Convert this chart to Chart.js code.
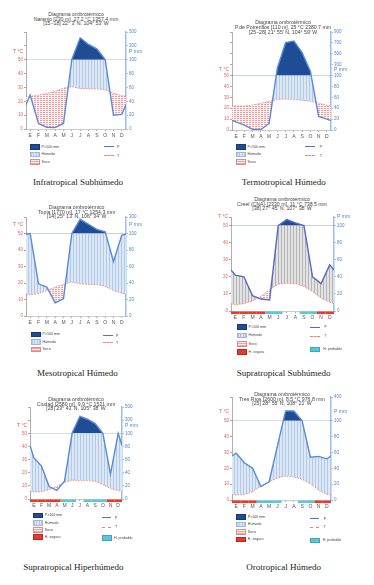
<!DOCTYPE html>
<html>
<head>
<meta charset="utf-8">
<script src="https://cdn.jsdelivr.net/npm/chart.js@4.4.1/dist/chart.umd.min.js"></script>
<style>
body{margin:0;background:#fff;width:374px;height:585px;position:relative;overflow:hidden;font-family:"Liberation Sans",Arial,sans-serif}
canvas{position:absolute}
.ttl{position:absolute;font-size:5.2px;line-height:4.6px;color:#444;text-align:center;white-space:nowrap;transform:translateX(-50%)}
.cap{position:absolute;font-family:"Liberation Serif","Times New Roman",serif;font-size:9px;color:#222;white-space:nowrap;transform:translate(-50%,-50%)}
.box{position:absolute;width:10px;height:5.5px;box-sizing:border-box}
.lt{position:absolute;font-size:3.6px;color:#444;white-space:nowrap;transform:translateY(-50%)}
.ln{position:absolute;width:9.5px;height:0}
</style>
</head>
<body>
<script>
const months = ["E","F","M","A","M","J","J","A","S","O","N","D"];

// temperatura media mensual (°C) y precipitacion (mm)
const temp1 = [23.5, 24.5, 25.8, 27, 29.5, 30.5, 29.3, 29, 29, 28.2, 26, 24];
const prec1 = [49, 8, 2.5, 2, 8, 104, 416, 320, 256, 102, 20, 21];
const temp2 = [22, 22, 23, 24.5, 26.3, 28, 28.5, 28, 27.3, 26.3, 24.5, 22.8];
const prec2 = [15, 9, 1, 1, 12, 242, 704, 736, 520, 180, 25, 20];
const temp3 = [12.8, 13.6, 15.4, 17.5, 19.1, 20.6, 19.5, 19.1, 19.1, 17.9, 15.4, 13.8];
const prec3 = [100, 39, 35, 16, 21, 100, 272, 212, 150, 120, 66, 98];
const temp4 = [3.5, 4.3, 5.9, 8.8, 12.4, 15.7, 16.3, 15.9, 14.3, 11.4, 7.5, 5.1];
const prec4 = [42, 40, 18, 14, 13, 100, 170, 132, 100, 40, 32, 54];
const temp5 = [5.4, 5.6, 7.1, 9.7, 12.8, 14.3, 14, 14, 13.5, 11, 7.9, 6.4];
const prec5 = [63, 50, 19, 13, 27, 104, 356, 314, 248, 100, 38, 100];
const temp6 = [3.1, 3.5, 5.2, 8.7, 11.4, 13.8, 15.1, 14.5, 13, 10.3, 6.2, 3.5];
const prec6 = [59, 47, 40, 17, 23, 68, 224, 224, 100, 54, 55, 52];

// heladas: 2 = segura, 1 = probable, 0 = sin helada
const frost4 = [2, 2, 2, 2, 1, 1, 0, 0, 1, 1, 2, 2];
const frost5 = [2, 2, 2, 2, 1, 1, 0, 1, 1, 1, 2, 2];
const frost6 = [2, 2, 2, 1, 1, 1, 0, 0, 1, 1, 2, 2];

// ticks del eje (en unidades de °C)
const yTicks1 = [0, 10, 20, 30, 40, 50, 60, 70];
const yTicks2 = [0, 10, 20, 30, 40, 50, 60, 70, 80, 90];
const yTicks3 = [0, 10, 20, 30, 40, 50, 60];
const yTicks4 = [0, 10, 20, 30, 40, 50, 55];
const yTicks5 = [0, 10, 20, 30, 40, 50, 60, 70];
const yTicks6 = [0, 10, 20, 30, 40, 50, 65];

const titles1 = ["Diagrama ombrotérmico", "Naranjo [230 m], 27.2 °C 1357.4  mm", "[15−18] 22° 3' N, 104° 53' W"];
const titles2 = ["Diagrama ombrotérmico", "P.de Potrerillos [110 m], 25 °C 2380.7  mm", "[25−28] 21° 55' N, 104° 59' W"];
const titles3 = ["Diagrama ombrotérmico", "Topia [1770 m], 17 °C 1254.3  mm", "[14] 25° 13' N, 106° 34' W"];
const titles4 = ["Diagrama ombrotérmico", "Creel (CNA) [2330 m], 11 °C 738.5  mm", "[38] 27° 45' N, 107° 38' W"];
const titles5 = ["Diagrama ombrotérmico", "Ciudad [2580 m], 9.9 °C 1521  mm", "[28] 23° 43' N, 105° 38' W"];
const titles6 = ["Diagrama ombrotérmico", "Tres Ríos [2600 m], 8.5 °C 976.8  mm", "[25] 28° 55' N, 108° 21' W"];

const captions = ["Infratropical Subhúmedo", "Termotropical Húmedo", "Mesotropical Húmedo",
  "Supratropical Subhúmedo", "Supratropical Hiperhúmedo", "Orotropical Húmedo"];

// precipitacion a escala del diagrama: 20 mm = 10 °C hasta 100 mm, despues 200 mm = 10 °C
function scaleP(p) { return p <= 100 ? p / 2 : 50 + (p - 100) / 20; }
function pLabel(v) { return v <= 50 ? String(v * 2) : String(100 + (v - 50) * 20); }
function wrapEnds(arr) {
  const e = (arr[0] + arr[11]) / 2;
  return [{x: 0, y: e}].concat(arr.map((v, i) => ({x: i + 0.5, y: v})), [{x: 12, y: e}]);
}

function makePattern(bg, line, vertical) {
  const c = document.createElement("canvas");
  c.width = 3; c.height = vertical ? 1 : 2;
  const g = c.getContext("2d");
  g.fillStyle = bg; g.fillRect(0, 0, c.width, c.height);
  g.fillStyle = line;
  if (vertical) g.fillRect(0, 0, 1, 1);
  else g.fillRect(0, 0, 2, 1);
  return g.createPattern(c, "repeat");
}
const humidPat = makePattern("#dce8f6", "#b2c9e8", true);
const humidGray = makePattern("#e2e2e2", "#b4b4b4", true);
const dryPat = makePattern("#fff4f4", "#f39a9a", false);

const panels = [
  {temp: temp1, prec: prec1, ticks: yTicks1, title: titles1, L: 26, R: 126, T: 32, B: 129.3, tx: 76, ty: 14.3, cx: 78, cy: 182,
   lg: {x: 30, ys: [144.3, 151.7, 159.3], rx: 104, rys: [146, 155], tx: 117}},
  {temp: temp2, prec: prec2, ticks: yTicks2, title: titles2, L: 231.5, R: 331.3, T: 32, B: 130, tx: 283, ty: 22.7, cx: 283.7, cy: 181.7,
   lg: {x: 236, ys: [144.3, 151.7, 159.3], rx: 305.3, rys: [146, 155.3], tx: 319.7}},
  {temp: temp3, prec: prec3, ticks: yTicks3, title: titles3, L: 25.5, R: 126, T: 217.3, B: 315.5, tx: 76.7, ty: 207.3, cx: 77.3, cy: 372.7,
   lg: {x: 31, ys: [331.7, 339.3, 346.7], rx: 103, rys: [335, 342.3], tx: 116}},
  {temp: temp4, prec: prec4, ticks: yTicks4, title: titles4, L: 230.5, R: 333.5, T: 217.3, B: 311, tx: 282, ty: 199.3, cx: 283.7, cy: 372.7,
   frost: frost4, gray: true, pColor: "#5a68c4", noTopLabel: true,
   lg: {x: 237, ys: [324.3, 332.7, 341, 349.3], rx: 310.3, rys: [326.7, 335.7], tx: 324.3, cyanY: 346.7}},
  {temp: temp5, prec: prec5, ticks: yTicks5, title: titles5, L: 29.5, R: 122.3, T: 407.3, B: 499.3, tx: 76, ty: 399.3, cx: 73.3, cy: 566.7,
   frost: frost5,
   lg: {x: 33.3, ys: [512.7, 520, 527, 534], rx: 101.7, rys: [517, 526.7], tx: 115, cyanY: 535}},
  {temp: temp6, prec: prec6, ticks: yTicks6, title: titles6, L: 232, R: 331, T: 396.5, B: 500, tx: 282, ty: 394.3, cx: 283.7, cy: 566.7,
   frost: frost6,
   lg: {x: 236.3, ys: [514, 521.7, 529.3, 536.7], rx: 309.7, rys: [518.3, 526.7], tx: 323.7, cyanY: 537.7}}
];

// etiquetas T / P y barra de heladas
const extras = {
  id: "extras",
  afterDraw(chart, args, opts) {
    const {ctx, chartArea, scales} = chart;
    const y = scales.y, x = scales.x;
    ctx.save();
    ctx.font = '5px "Liberation Sans"';
    ctx.textBaseline = "middle";
    ctx.fillStyle = "#e8534c"; ctx.textAlign = "right";
    ctx.fillText("T °C", chartArea.left - 3, y.getPixelForValue(55.5));
    ctx.fillStyle = "#4f86d0"; ctx.textAlign = "left";
    ctx.fillText("P mm", chartArea.right + 3, y.getPixelForValue(55.5));
    if (opts.frost) {
      opts.frost.forEach((f, i) => {
        if (!f) return;
        const x0 = x.getPixelForValue(i), x1 = x.getPixelForValue(i + 1);
        ctx.fillStyle = f === 2 ? "#e53b2c" : "#5cc6d6";
        ctx.fillRect(x0, chartArea.bottom + 0.5, x1 - x0, 2.6);
      });
    }
    ctx.restore();
  }
};

function addDiv(cls, x, y, html, style) {
  const d = document.createElement("div");
  d.className = cls;
  d.style.left = x + "px"; d.style.top = y + "px";
  if (html) d.innerHTML = html;
  if (style) Object.assign(d.style, style);
  document.body.appendChild(d);
  return d;
}

function drawLegend(p) {
  const lg = p.lg;
  const hum = p.gray
    ? "repeating-linear-gradient(90deg,#b8b8c8 0 0.8px,#e4e4ec 0.8px 2.4px)"
    : "repeating-linear-gradient(90deg,#b2c9e8 0 0.8px,#dce8f6 0.8px 2.4px)";
  const items = [
    ["P>100 mm", {background: "#1e4d95", border: "0.5px solid #163a70"}],
    ["Húmedo", {background: hum, border: "0.5px solid #9db8de"}],
    ["Seco", {background: "repeating-linear-gradient(0deg,#f4a0a0 0 0.7px,#fff3f3 0.7px 2px)", border: "0.5px solid #e58888"}],
    ["H. segura", {background: "#e53b2c", border: "0.5px solid #b52a20"}]
  ];
  lg.ys.forEach((yy, i) => {
    addDiv("box", lg.x, yy, "", items[i][1]);
    addDiv("lt", lg.x + 11.5, yy + 2.75, items[i][0]);
  });
  addDiv("ln", lg.rx, lg.rys[0], "", {borderTop: "1px solid " + (p.pColor || "#5b6fc8")});
  addDiv("lt", lg.tx, lg.rys[0] + 0.5, "P");
  addDiv("ln", lg.rx, lg.rys[1], "", {borderTop: "1px dashed #f08080"});
  addDiv("lt", lg.tx, lg.rys[1] + 0.5, "T");
  if (lg.cyanY) {
    addDiv("box", lg.rx, lg.cyanY, "", {background: "#5cc6d6", border: "0.5px solid #3aa8b8"});
    addDiv("lt", lg.tx - 1, lg.cyanY + 2.75, "H. probable");
  }
}

const padL = 16, padR = 16, padT = 6, padB = 12;

panels.forEach((p, k) => {
  const left = Math.round(p.L - padL), top = Math.round(p.T - padT);
  const w = Math.round(p.R + padR) - left, h = Math.round(p.B + padB) - top;
  const cv = document.createElement("canvas");
  cv.width = w; cv.height = h;
  cv.style.left = left + "px"; cv.style.top = top + "px";
  cv.style.width = w + "px"; cv.style.height = h + "px";
  document.body.appendChild(cv);

  const max = p.ticks[p.ticks.length - 1];
  const tData = wrapEnds(p.temp);
  const pData = wrapEnds(p.prec.map(scaleP));

  new Chart(cv, {
    type: "line",
    data: {
      datasets: [
        {data: tData, borderColor: "#f07b78", borderDash: [1.6, 1.2], borderWidth: 0.8, pointRadius: 0, fill: false, order: 2},
        {data: pData, borderWidth: 0, pointRadius: 0, order: 4,
         fill: {target: 0, above: p.gray ? humidGray : humidPat, below: dryPat}},
        {data: pData, borderColor: p.pColor || "#5b8ad6", borderWidth: 1.4, pointRadius: 0, order: 1,
         fill: {target: {value: 50}, above: "#1e4d95", below: "rgba(0,0,0,0)"}}
      ]
    },
    options: {
      responsive: false,
      animation: false,
      parsing: false,
      layout: {padding: {top: padT, left: 0, right: 0, bottom: 0}},
      plugins: {legend: {display: false}, tooltip: {enabled: false}, extras: {frost: p.frost}},
      elements: {line: {tension: 0}},
      scales: {
        x: {
          type: "linear", min: 0, max: 12,
          afterBuildTicks: a => { a.ticks = months.map((m, i) => ({value: i + 0.5})); },
          afterFit: s => { s.height = padB; },
          ticks: {callback: (v, i) => months[i], autoSkip: false, maxRotation: 0, color: "#555",
                  font: {size: 5, family: "Liberation Sans"}, padding: 1.5},
          grid: {drawOnChartArea: false, tickLength: 2, color: "#aaa"},
          border: {color: "#aaa", width: 0.6}
        },
        y: {
          position: "left", min: 0, max: max,
          afterBuildTicks: a => { a.ticks = p.ticks.map(v => ({value: v})); },
          afterFit: s => { s.width = padL; },
          ticks: {callback: v => (v <= 50 && v % 10 === 0) ? String(v) : "", color: "#e8605a",
                  font: {size: 4.5, family: "Liberation Sans"}, padding: 1},
          grid: {drawOnChartArea: false, tickLength: 2, color: "#aaa"},
          border: {color: "#999", width: 0.8}
        },
        y2: {
          position: "right", min: 0, max: max,
          afterBuildTicks: a => { a.ticks = p.ticks.map(v => ({value: v})); },
          afterFit: s => { s.width = padR; },
          ticks: {callback: v => (p.noTopLabel && v > 50) ? "" : pLabel(v), color: "#4f86d0",
                  font: {size: 4.5, family: "Liberation Sans"}, padding: 1},
          grid: {drawOnChartArea: false, tickLength: 2, color: "#9cbde8"},
          border: {color: "#9cbde8", width: 1.5}
        }
      }
    },
    plugins: [extras]
  });

  addDiv("ttl", p.tx, p.ty - 2.3, p.title.join("<br>"));
  addDiv("cap", p.cx, p.cy, captions[k]);
  drawLegend(p);
});
</script>
</body>
</html>
